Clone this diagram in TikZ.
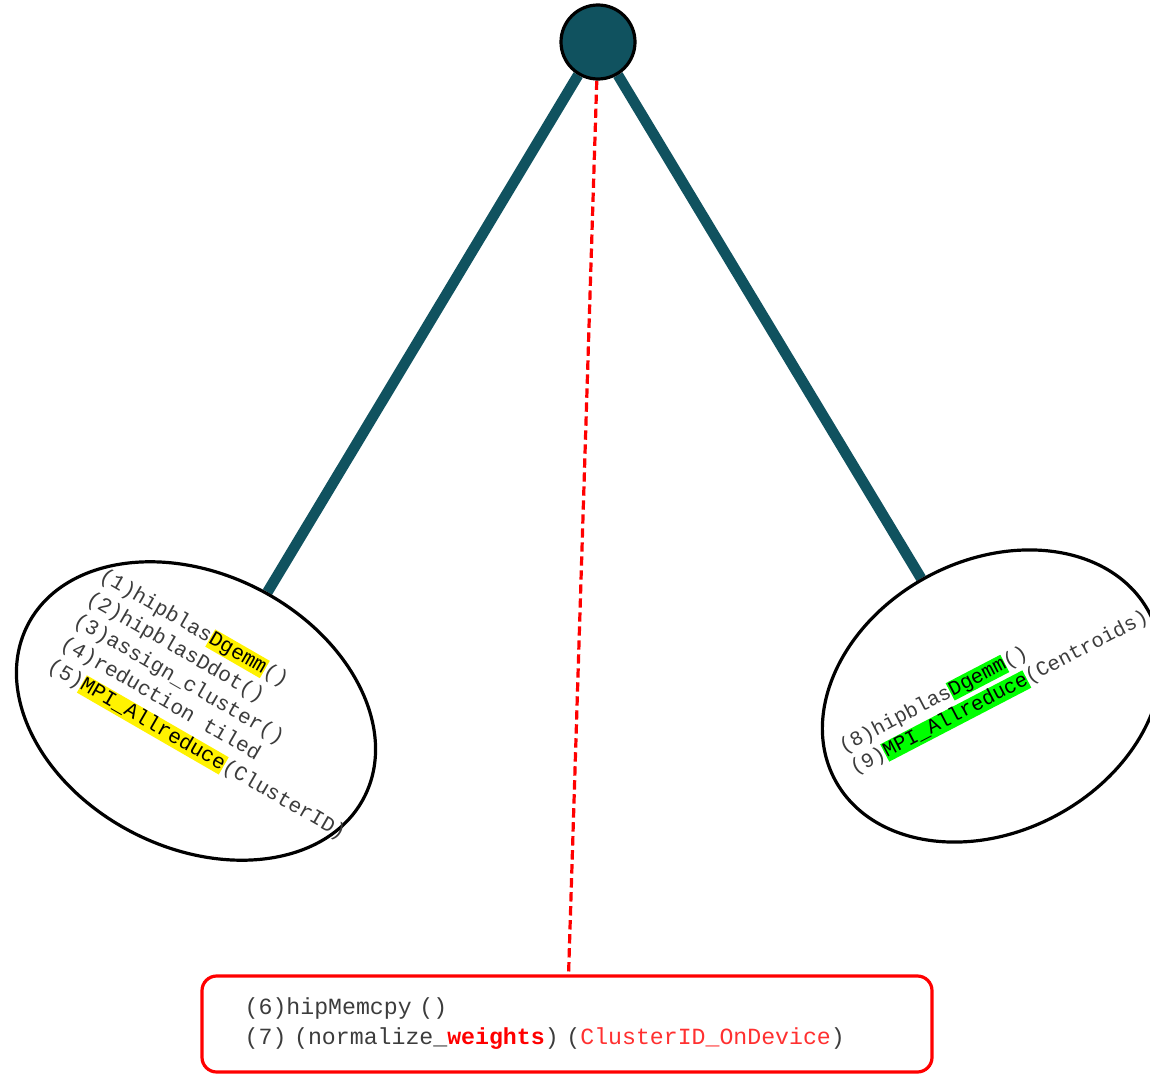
\documentclass[tikz,border=0pt]{standalone}
\usepackage{fontspec}
\setmonofont{Liberation Mono}
\usepackage{xcolor}
\usetikzlibrary{shapes.geometric,backgrounds}
\definecolor{hubteal}{HTML}{10525F}
\definecolor{codegray}{HTML}{3C3C3C}
\definecolor{hlgreen}{HTML}{00FF00}
\definecolor{softred}{HTML}{FF3030}
\newcommand{\hlmark}[2]{{\setlength{\fboxsep}{0pt}\colorbox{#1}{\rule[-0.22em]{0pt}{0.95em}\color{black}#2}}}

\begin{document}
\begin{tikzpicture}[x=0.75pt,y=-0.75pt,line join=round,
    bubble/.style={ellipse,draw=black,line width=2.4pt,fill=white,inner sep=0pt},
    link/.style={hubteal,line width=8pt},
    code/.style={text=codegray,font=\ttfamily\fontsize{15.75}{19.5}\selectfont,align=left,inner sep=0pt}]
    \useasboundingbox (0,0) rectangle (1150,1074);
    % ============ Hub and the two GPU ellipses ============
    \node[circle,draw=black,line width=2.4pt,fill=hubteal,minimum size=55.5pt,inner sep=0pt] (hub) at (598,42) {};
    \node[bubble,minimum width=283.5pt,minimum height=205.5pt,rotate=-27] (gpuL) at (196,711) {};
    \node[bubble,minimum width=267pt,minimum height=203.5pt,rotate=28] (gpuR) at (992,696) {};
    % ============ Host box ============
    \node[draw=red,line width=2.4pt,rounded corners=11pt,minimum width=547.5pt,minimum height=72pt,
      text width=483.5pt,inner xsep=32pt,align=left,text=codegray,
      font=\ttfamily\fontsize{17.4}{22.5}\selectfont] (memcpy) at (567,1024)
      {(6)hipMemcpy ()\\(7) (normalize\_{\bfseries\color{red}weights}) ({\color{softred}ClusterID\_OnDevice})};
    % ============ Links ============
    \begin{scope}[on background layer]
      \draw[link] (hub) -- (gpuL);
      \draw[link] (hub) -- (gpuR);
      \draw[red,line width=2.4pt,dash pattern=on 7pt off 3.5pt] (hub) -- (memcpy);
    \end{scope}
    % ============ Kernel lists ============
    \node[code,rotate=-30,anchor=north west] (stepsL) at (106,566)
      {(1)hipblas\hlmark{yellow}{Dgemm}()\\(2)hipblasDdot()\\(3)assign\_cluster()\\(4)reduction tiled\\(5)\hlmark{yellow}{MPI\_Allreduce}(ClusterID)};
    \node[code,rotate=27.5,anchor=north west,font=\ttfamily\fontsize{15.4}{18}\selectfont] (stepsR) at (836,740)
      {(8)hipblas\hlmark{hlgreen}{Dgemm}()\\(9)\hlmark{hlgreen}{MPI\_Allreduce}(Centroids)};
\end{tikzpicture}
\end{document}
